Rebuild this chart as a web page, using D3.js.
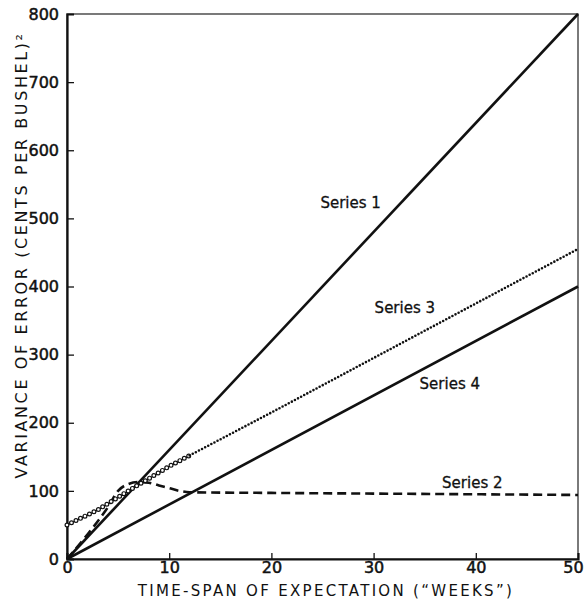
<!DOCTYPE html>
<html>
<head>
<meta charset="utf-8">
<script src="https://cdn.jsdelivr.net/npm/d3@7"></script>
<style>
  body { margin: 0; background: #fff; }
  svg text { font-family: "DejaVu Sans", sans-serif; fill: #111; }
</style>
</head>
<body>
<div id="chart"></div>
<script>
// variance of forecast error against time-span of expectation
const xTicks = [0, 10, 20, 30, 40, 50];
const yTicks = [0, 100, 200, 300, 400, 500, 600, 700, 800];

const series1 = [[0, 0], [50, 800]];
const series4 = [[0, 0], [50, 400]];
const series2 = [[0, 0], [2, 36], [4, 76], [5, 100], [6, 110], [7, 113], [8, 112],
                 [9, 108], [10, 104], [11, 100], [12, 98], [20, 97], [30, 96], [40, 95], [50, 94]];
const series3 = [[0, 50], [3, 72], [6, 100], [8, 118], [10, 136], [12, 152],
                 [20, 215], [30, 295], [40, 375], [50, 455]];
const circleUntil = 12; // series 3 drawn with open circles up to here

const labels = [
  { text: "Series 1", x: 24.8, y: 515 },
  { text: "Series 3", x: 30.1, y: 361 },
  { text: "Series 4", x: 34.5, y: 250 },
  { text: "Series 2", x: 36.7, y: 104 }
];

const W = 587, H = 600;
const margin = { top: 14, right: 9, bottom: 41, left: 67 };
const width = W - margin.left - margin.right;
const height = H - margin.top - margin.bottom;

const svg = d3.select("#chart").append("svg")
  .attr("width", W).attr("height", H);
const g = svg.append("g")
  .attr("transform", `translate(${margin.left},${margin.top})`);

const x = d3.scaleLinear().domain([0, 50]).range([0, width]);
const y = d3.scaleLinear().domain([0, 800]).range([height, 0]);

// thin frame on top and right
g.append("rect")
  .attr("width", width).attr("height", height)
  .attr("fill", "none").attr("stroke", "#222").attr("stroke-width", 1.2);

const xAxis = g.append("g")
  .attr("transform", `translate(0,${height})`)
  .call(d3.axisBottom(x).tickValues(xTicks).tickSize(-6).tickPadding(5).tickFormat(d3.format("d")));
const yAxis = g.append("g")
  .call(d3.axisLeft(y).tickValues(yTicks).tickSize(-7).tickPadding(8).tickFormat(d3.format("d")));

[xAxis, yAxis].forEach(a => {
  a.select(".domain").attr("stroke", "#111").attr("stroke-width", 2.2);
  a.selectAll(".tick line").attr("stroke", "#111").attr("stroke-width", 1.3);
  a.selectAll(".tick text")
    .style("font-family", "DejaVu Sans, sans-serif")
    .style("font-size", "16px").attr("fill", "#111")
    .attr("stroke", "#111").attr("stroke-width", 0.5);
});
xAxis.selectAll(".tick line").filter(d => d === 0 || d === 50).remove();
yAxis.selectAll(".tick line").filter(d => d === 0 || d === 800).remove();
xAxis.selectAll(".tick text").attr("dy", "0.55em");
// keep the last label inside the page
xAxis.selectAll(".tick text").filter(d => d === 50).attr("dx", -5);

const line = d3.line().x(d => x(d[0])).y(d => y(d[1]));

g.append("path").datum(series1).attr("d", line)
  .attr("fill", "none").attr("stroke", "#111").attr("stroke-width", 2.6);
g.append("path").datum(series4).attr("d", line)
  .attr("fill", "none").attr("stroke", "#111").attr("stroke-width", 2.6);

g.append("path").datum(series2).attr("d", d3.line().curve(d3.curveMonotoneX).x(d => x(d[0])).y(d => y(d[1])))
  .attr("fill", "none").attr("stroke", "#111").attr("stroke-width", 2.6)
  .attr("stroke-dasharray", "9,5");

// series 3: open circles at the start, then small dots
const s3a = series3.filter(d => d[0] <= circleUntil);
const s3b = series3.filter(d => d[0] >= circleUntil);
g.append("path").datum(s3a).attr("d", line)
  .attr("fill", "none").attr("stroke", "#111").attr("stroke-width", 5)
  .attr("stroke-linecap", "round").attr("stroke-dasharray", "0,5");
g.append("path").datum(s3a).attr("d", line)
  .attr("fill", "none").attr("stroke", "#fff").attr("stroke-width", 2.6)
  .attr("stroke-linecap", "round").attr("stroke-dasharray", "0,5");
g.append("path").datum(s3b).attr("d", line)
  .attr("fill", "none").attr("stroke", "#111").attr("stroke-width", 2.6)
  .attr("stroke-linecap", "round").attr("stroke-dasharray", "0,3.5");

g.selectAll(".series-label").data(labels).enter().append("text")
  .attr("class", "series-label")
  .attr("x", d => x(d.x)).attr("y", d => y(d.y))
  .style("font-size", "15px")
  .attr("stroke", "#111").attr("stroke-width", 0.3)
  .text(d => d.text);

svg.append("text")
  .attr("x", 326).attr("y", 596)
  .attr("text-anchor", "middle")
  .style("font-size", "15px").style("letter-spacing", "2.3px")
  .text("TIME-SPAN OF EXPECTATION (“WEEKS”)");

svg.append("text")
  .attr("transform", `translate(27,${255}) rotate(-90)`)
  .attr("text-anchor", "middle")
  .style("font-size", "16px").style("letter-spacing", "2.6px")
  .text("VARIANCE OF ERROR (CENTS PER BUSHEL)²");
</script>
</body>
</html>
